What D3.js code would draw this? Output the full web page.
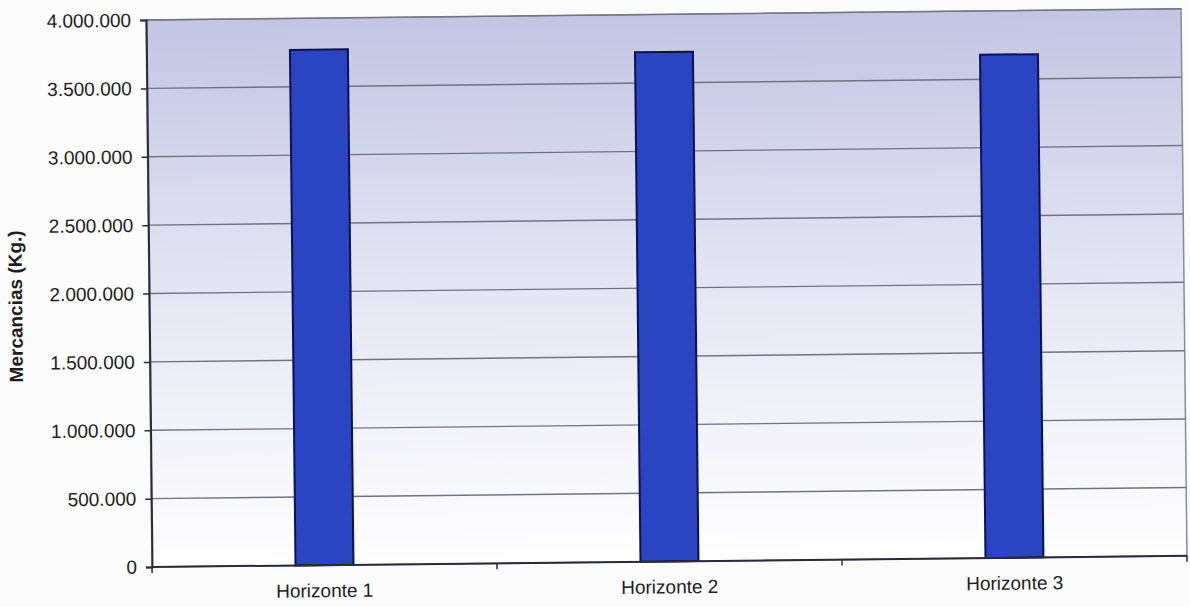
<!DOCTYPE html>
<html>
<head>
<meta charset="utf-8">
<script src="https://cdn.jsdelivr.net/npm/d3@7"></script>
<style>
  html, body { margin: 0; padding: 0; background: #fbfbfb; }
  svg { display: block; }
  text { font-family: "Liberation Sans", Arial, sans-serif; fill: #1e1e1e; }
</style>
</head>
<body>
<svg id="chart" width="1190" height="607"></svg>
<script>
// Goods volume per planning horizon (kg)
const categories = ["Horizonte 1", "Horizonte 2", "Horizonte 3"];
const values = [3770000, 3725000, 3680000];
const yTicks = [0, 500000, 1000000, 1500000, 2000000, 2500000, 3000000, 3500000, 4000000];
const yLabel = "Mercancias (Kg.)";

const svg = d3.select("#chart");
const plotLeft = 152, plotBottom = 567, plotW = 1035, plotH = 547;
const plotTop = plotBottom - plotH, plotRight = plotLeft + plotW;

// Whole chart sits slightly tilted around the axis origin
const g = svg.append("g").attr("transform", `rotate(-0.62, ${plotLeft}, ${plotBottom})`);

const defs = svg.append("defs");
const grad = defs.append("linearGradient").attr("id", "bg").attr("x1", 0).attr("y1", 0).attr("x2", 0).attr("y2", 1);
grad.append("stop").attr("offset", "0%").attr("stop-color", "#c3c5e3");
grad.append("stop").attr("offset", "50%").attr("stop-color", "#e5e6f3");
grad.append("stop").attr("offset", "100%").attr("stop-color", "#ffffff");

const x = d3.scaleBand().domain(categories).range([plotLeft, plotRight]).paddingInner(0.832).paddingOuter(0.416);
const y = d3.scaleLinear().domain([0, 4000000]).range([plotBottom, plotTop]);

// Plot area
g.append("rect").attr("x", plotLeft).attr("y", plotTop).attr("width", plotW).attr("height", plotH)
  .attr("fill", "url(#bg)").attr("stroke", "#8a8a98").attr("stroke-width", 1.5);

// Gridlines
g.append("g").selectAll("line").data(yTicks.filter(d => d > 0)).join("line")
  .attr("x1", plotLeft).attr("x2", plotRight)
  .attr("y1", d => y(d)).attr("y2", d => y(d))
  .attr("stroke", "#727282").attr("stroke-width", 1.4);

// Bars
g.append("g").selectAll("rect").data(values).join("rect")
  .attr("x", (d, i) => x(categories[i]))
  .attr("width", x.bandwidth())
  .attr("y", d => y(d))
  .attr("height", d => y(0) - y(d))
  .attr("fill", "#2b45c2").attr("stroke", "#0b1250").attr("stroke-width", 2);

// Y axis
const yAxis = d3.axisLeft(y).tickValues(yTicks).tickSize(6).tickPadding(9)
  .tickFormat(d => d3.format(",")(d).replace(/,/g, "."));
const ya = g.append("g").attr("transform", `translate(${plotLeft},0)`).call(yAxis);
ya.attr("font-family", null).attr("font-size", null);
ya.select(".domain").attr("stroke", "#2a2a3a").attr("stroke-width", 2);
ya.selectAll(".tick line").attr("stroke", "#2a2a3a").attr("stroke-width", 1.5);
ya.selectAll(".tick text").style("font-size", "19px").attr("fill", "#1e1e1e");

// X axis: ticks sit on the category boundaries
const xa = g.append("g").attr("transform", `translate(0,${plotBottom})`);
xa.append("line").attr("x1", plotLeft).attr("x2", plotRight).attr("stroke", "#2a2a3a").attr("stroke-width", 2);
const step = x.step();
const bounds = d3.range(categories.length + 1).map(i => plotLeft + i * step);
xa.selectAll("line.tk").data(bounds).join("line").attr("class", "tk")
  .attr("x1", d => d).attr("x2", d => d).attr("y1", 0).attr("y2", 6)
  .attr("stroke", "#2a2a3a").attr("stroke-width", 1.5);
xa.selectAll("text").data(categories).join("text")
  .attr("x", d => x(d) + x.bandwidth() / 2).attr("y", 32)
  .attr("text-anchor", "middle").style("font-size", "19px").text(d => d);

// Y axis title
g.append("text")
  .attr("transform", `translate(25, ${plotBottom - 262}) rotate(-90)`)
  .attr("text-anchor", "middle").style("font-size", "19px").style("font-weight", "bold")
  .text(yLabel);
</script>
</body>
</html>
